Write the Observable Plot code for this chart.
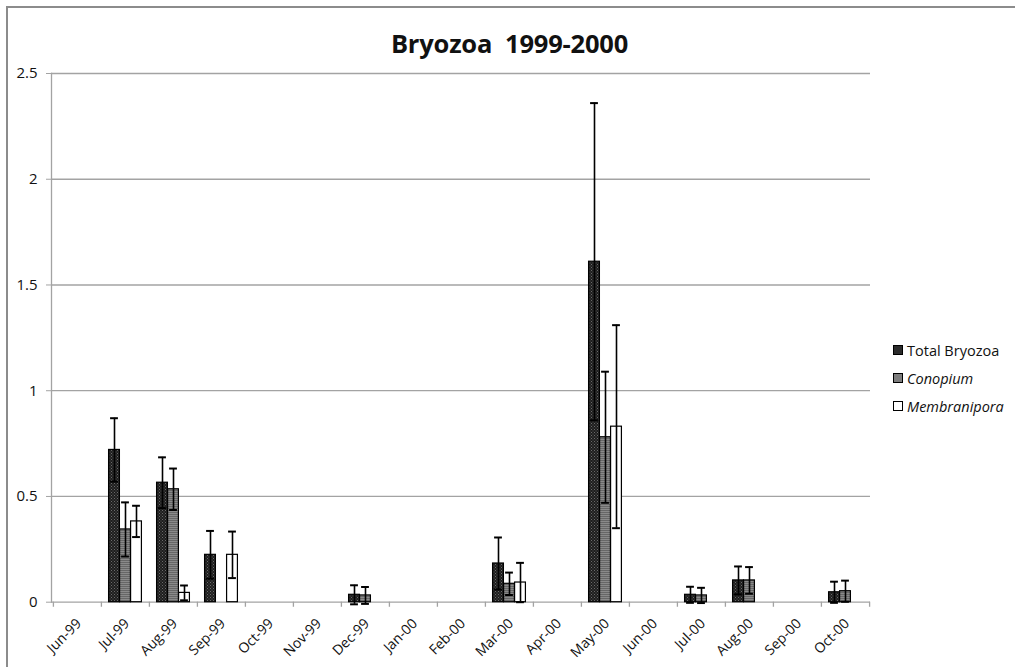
<!DOCTYPE html>
<html>
<head>
<meta charset="utf-8">
<script src="https://cdn.jsdelivr.net/npm/d3@7"></script>
<script src="https://cdn.jsdelivr.net/npm/@observablehq/plot@0.6"></script>
<style>
  html, body { margin: 0; padding: 0; background: #fff; }
  #wrap { position: relative; width: 1015px; height: 667px; overflow: hidden; font-family: "Open Sans", sans-serif; }
  #frame { position: absolute; left: 6px; top: 6px; width: 1100px; height: 700px; border-left: 2px solid #8c8c8c; border-top: 2px solid #8c8c8c; box-sizing: border-box; }
  #title { position: absolute; left: 0; top: 26px; width: 1015px; text-align: center; font-weight: bold; font-size: 25.5px; letter-spacing: -0.2px; white-space: pre; color: #111; line-height: 34px; }
  #title span { position: relative; left: 2px; }
  #chart { position: absolute; left: 0; top: 60px; }
  #legend { position: absolute; left: 893px; top: 336px; font-size: 14.5px; color: #111; }
  .item { display: flex; align-items: center; height: 28px; }
  .sw { width: 8px; height: 8px; border: 1px solid #000; margin-right: 4px; }
</style>
</head>
<body>
<div id="wrap">
  <div id="frame"></div>
  <div id="title"><span>Bryozoa  1999-2000</span></div>
  <div id="chart"></div>
  <div id="legend"></div>
</div>
<script>
const months = ["Jun-99","Jul-99","Aug-99","Sep-99","Oct-99","Nov-99","Dec-99","Jan-00","Feb-00","Mar-00","Apr-00","May-00","Jun-00","Jul-00","Aug-00","Sep-00","Oct-00"];
const seriesNames = ["Total Bryozoa", "Conopium", "Membranipora"];
const totalBryozoa   = [0, 0.72, 0.565, 0.224, 0, 0, 0.035, 0, 0, 0.183, 0, 1.61, 0, 0.035, 0.103, 0, 0.047];
const totalErr       = [0, 0.15, 0.12, 0.113, 0, 0, 0.045, 0, 0, 0.123, 0, 0.75, 0, 0.038, 0.066, 0, 0.05];
const conopium       = [0, 0.344, 0.534, 0, 0, 0, 0.032, 0, 0, 0.087, 0, 0.78, 0, 0.032, 0.103, 0, 0.052];
const conopiumErr    = [0, 0.128, 0.098, 0, 0, 0, 0.04, 0, 0, 0.053, 0, 0.31, 0, 0.036, 0.063, 0, 0.05];
const membranipora   = [0, 0.382, 0.044, 0.224, 0, 0, 0, 0, 0, 0.093, 0, 0.83, 0, 0, 0, 0, 0];
const membraniporaErr= [0, 0.074, 0.035, 0.11, 0, 0, 0, 0, 0, 0.093, 0, 0.48, 0, 0, 0, 0, 0];
const yTicks = [0, 0.5, 1, 1.5, 2, 2.5];
const yTickLabels = ["0", "0.5", "1", "1.5", "2", "2.5"];

const W = 1015, H = 607, mL = 51, mR = 145, mT = 13, mB = 65.3;
const bw = (W - mL - mR) / months.length;
const barW = 11;
const fills = ["url(#patTotal)", "url(#patCon)", "#ffffff"];
const legendFills = ["#2b2b2b", "#7d7d7d", "#ffffff"];
const allValues = [totalBryozoa, conopium, membranipora];
const allErrs = [totalErr, conopiumErr, membraniporaErr];

const grey = "#a3a3a3";
const marks = [
  Plot.ruleY(yTicks.filter(d => d > 0), {stroke: grey, strokeWidth: 1.3}),
  Plot.frame({anchor: "left", stroke: grey, strokeWidth: 1.3}),
  Plot.ruleY([0], {stroke: grey, strokeWidth: 1.3}),
  Plot.axisY({ticks: yTicks, tickSize: 5, tickPadding: 9, stroke: grey, fill: "#111", fontSize: 15,
              tickFormat: (d) => yTickLabels[yTicks.indexOf(d)], label: null}),
  Plot.text(months, {x: d => d, y: 0, text: d => d, rotate: -45, textAnchor: "end", lineAnchor: "middle",
                     dx: 1.5, dy: 19, fontSize: 14, fill: "#111"}),
  Plot.ruleX(months, {x: d => d, dx: -bw / 2, y1: 0, y2: -0.024, stroke: grey, strokeWidth: 1.3}),
  Plot.ruleX([months[months.length - 1]], {x: d => d, dx: bw / 2, y1: 0, y2: -0.024, stroke: grey, strokeWidth: 1.3})
];

allValues.forEach((vals, i) => {
  const rows = months.map((m, k) => ({month: m, value: vals[k], err: allErrs[i][k]})).filter(r => r.value > 0);
  const off = (i - 1) * barW;
  const insetLeft = bw / 2 + off - barW / 2;
  const insetRight = bw / 2 - off - barW / 2;
  marks.push(Plot.barY(rows, {x: "month", y: "value", fill: fills[i], stroke: "#000", strokeWidth: 1.2,
                               insetLeft, insetRight}));
});
allValues.forEach((vals, i) => {
  const rows = months.map((m, k) => ({month: m, value: vals[k], err: allErrs[i][k]})).filter(r => r.value > 0);
  const off = (i - 1) * barW;
  marks.push(Plot.ruleX(rows, {x: "month", y1: d => d.value - d.err, y2: d => d.value + d.err, dx: off, stroke: "#000", strokeWidth: 1.6}));
  const capIL = bw / 2 + off - 4, capIR = bw / 2 - off - 4;
  marks.push(Plot.tickY(rows, {x: "month", y: d => d.value + d.err, stroke: "#000", strokeWidth: 2, insetLeft: capIL, insetRight: capIR}));
  marks.push(Plot.tickY(rows, {x: "month", y: d => d.value - d.err, stroke: "#000", strokeWidth: 2, insetLeft: capIL, insetRight: capIR}));
});

const svg = Plot.plot({
  width: W, height: H, marginLeft: mL, marginRight: mR, marginTop: mT, marginBottom: mB,
  style: {fontFamily: "'Open Sans', sans-serif", background: "transparent", overflow: "visible"},
  x: {domain: months, padding: 0, label: null, axis: null},
  y: {domain: [0, 2.5], label: null, axis: null},
  marks
});

const ns = "http://www.w3.org/2000/svg";
const defs = document.createElementNS(ns, "defs");
defs.innerHTML = `
  <pattern id="patTotal" width="3" height="3" patternUnits="userSpaceOnUse">
    <rect width="3" height="3" fill="#1e1e1e"/>
    <rect x="0" y="0" width="1" height="1" fill="#6a6a6a"/>
    <rect x="1.5" y="1.5" width="1" height="1" fill="#5a5a5a"/>
  </pattern>
  <pattern id="patCon" width="3" height="2" patternUnits="userSpaceOnUse">
    <rect width="3" height="2" fill="#8a8a8a"/>
    <rect x="0" y="0" width="3" height="0.8" fill="#5e5e5e"/>
  </pattern>`;
svg.insertBefore(defs, svg.firstChild);
document.getElementById("chart").appendChild(svg);

const legend = document.getElementById("legend");
seriesNames.forEach((name, i) => {
  const item = document.createElement("div");
  item.className = "item";
  const sw = document.createElement("div");
  sw.className = "sw";
  sw.style.background = legendFills[i];
  const label = document.createElement("span");
  label.textContent = name;
  if (i > 0) label.style.fontStyle = "italic";
  item.appendChild(sw);
  item.appendChild(label);
  legend.appendChild(item);
});
</script>
</body>
</html>
